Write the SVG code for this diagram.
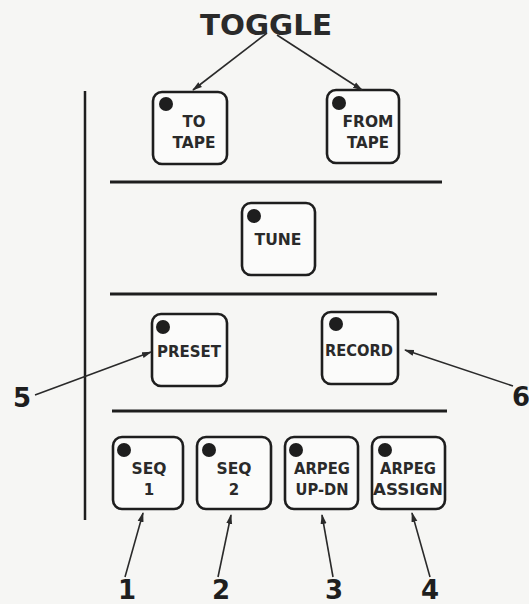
<svg xmlns="http://www.w3.org/2000/svg" width="529" height="604" viewBox="0 0 529 604">
<style>
.bg{fill:#f6f6f4}
.box{fill:#fbfbfa;stroke:#1e1e1e;stroke-width:2.6}
.dot{fill:#1e1e1e}
.lbl{font-family:"DejaVu Sans","Liberation Sans",sans-serif;font-weight:bold;font-size:15px;fill:#2a2a2a;text-anchor:middle}
.num{font-family:"DejaVu Sans","Liberation Sans",sans-serif;font-weight:bold;font-size:26px;fill:#1e1e1e;text-anchor:middle}
.title{font-family:"DejaVu Sans","Liberation Sans",sans-serif;font-weight:bold;font-size:29px;fill:#2a2a2a;text-anchor:middle}
.rule{stroke:#1e1e1e;stroke-width:3;fill:none}
.conn{stroke:#2a2a2a;stroke-width:1.6;fill:none;marker-end:url(#ah)}
</style>
<defs>
<marker id="ah" markerUnits="userSpaceOnUse" markerWidth="10" markerHeight="7" refX="9" refY="3.5" orient="auto">
<path d="M0,0.5 L10,3.5 L0,6.5 z" fill="#2a2a2a"/>
</marker>
</defs>
<rect class="bg" x="0" y="0" width="529" height="604"/>

<g id="title"><text class="title" x="266" y="35" textLength="132" lengthAdjust="spacingAndGlyphs">TOGGLE</text></g>

<g id="rules">
<line class="rule" x1="85" y1="91" x2="85" y2="520" style="stroke-width:2.5"/>
<line class="rule" x1="110" y1="182" x2="442" y2="182"/>
<line class="rule" x1="110" y1="294" x2="437" y2="294"/>
<line class="rule" x1="112" y1="411" x2="447" y2="411"/>
</g>

<g id="to-tape">
<rect class="box" x="153" y="92" width="74" height="72" rx="9"/>
<circle class="dot" cx="166" cy="104" r="7"/>
<text class="lbl" x="194" y="127" textLength="23" lengthAdjust="spacingAndGlyphs">TO</text>
<text class="lbl" x="194" y="148" textLength="43" lengthAdjust="spacingAndGlyphs">TAPE</text>
</g>

<g id="from-tape">
<rect class="box" x="327" y="90" width="72" height="73" rx="9"/>
<circle class="dot" cx="339" cy="103" r="7"/>
<text class="lbl" x="368" y="127" textLength="51" lengthAdjust="spacingAndGlyphs">FROM</text>
<text class="lbl" x="368" y="148" textLength="42" lengthAdjust="spacingAndGlyphs">TAPE</text>
</g>

<g id="tune">
<rect class="box" x="242" y="203" width="73" height="72" rx="9"/>
<circle class="dot" cx="254" cy="216" r="7"/>
<text class="lbl" x="278" y="245" textLength="47" lengthAdjust="spacingAndGlyphs">TUNE</text>
</g>

<g id="preset">
<rect class="box" x="152" y="314" width="75" height="72" rx="9"/>
<circle class="dot" cx="163" cy="327" r="7"/>
<text class="lbl" x="189" y="357" textLength="64" lengthAdjust="spacingAndGlyphs">PRESET</text>
</g>

<g id="record">
<rect class="box" x="322" y="312" width="76" height="72" rx="9"/>
<circle class="dot" cx="336" cy="324" r="7"/>
<text class="lbl" x="359" y="356" textLength="68" lengthAdjust="spacingAndGlyphs">RECORD</text>
</g>

<g id="seq1">
<rect class="box" x="113" y="437" width="70" height="72" rx="9"/>
<circle class="dot" cx="124" cy="450" r="7"/>
<text class="lbl" x="149" y="474" textLength="35" lengthAdjust="spacingAndGlyphs">SEQ</text>
<text class="lbl" x="149" y="495">1</text>
</g>

<g id="seq2">
<rect class="box" x="197" y="437" width="74" height="72" rx="9"/>
<circle class="dot" cx="209" cy="450" r="7"/>
<text class="lbl" x="234" y="474" textLength="35" lengthAdjust="spacingAndGlyphs">SEQ</text>
<text class="lbl" x="234" y="495">2</text>
</g>

<g id="arpeg-up-dn">
<rect class="box" x="285" y="437" width="73" height="72" rx="9"/>
<circle class="dot" cx="296" cy="450" r="7"/>
<text class="lbl" x="322" y="474" textLength="56" lengthAdjust="spacingAndGlyphs">ARPEG</text>
<text class="lbl" x="322" y="495" textLength="53" lengthAdjust="spacingAndGlyphs">UP-DN</text>
</g>

<g id="arpeg-assign">
<rect class="box" x="372" y="437" width="73" height="72" rx="9"/>
<circle class="dot" cx="385" cy="450" r="7"/>
<text class="lbl" x="408" y="474" textLength="56" lengthAdjust="spacingAndGlyphs">ARPEG</text>
<text class="lbl" x="408" y="495" textLength="70" lengthAdjust="spacingAndGlyphs">ASSIGN</text>
</g>

<g id="connectors">
<line class="conn" x1="267" y1="33" x2="193" y2="90"/>
<line class="conn" x1="277" y1="35" x2="362" y2="90"/>
<line class="conn" x1="35" y1="395" x2="151" y2="352"/>
<line class="conn" x1="513" y1="386" x2="405" y2="350"/>
<line class="conn" x1="125" y1="577" x2="143" y2="513"/>
<line class="conn" x1="218" y1="577" x2="231" y2="515"/>
<line class="conn" x1="333" y1="577" x2="322" y2="515"/>
<line class="conn" x1="430" y1="577" x2="412" y2="513"/>
</g>

<g id="numbers">
<text class="num" x="22" y="407">5</text>
<text class="num" x="521" y="406">6</text>
<text class="num" x="127" y="599">1</text>
<text class="num" x="221" y="599">2</text>
<text class="num" x="334" y="599">3</text>
<text class="num" x="430" y="599">4</text>
</g>
</svg>
